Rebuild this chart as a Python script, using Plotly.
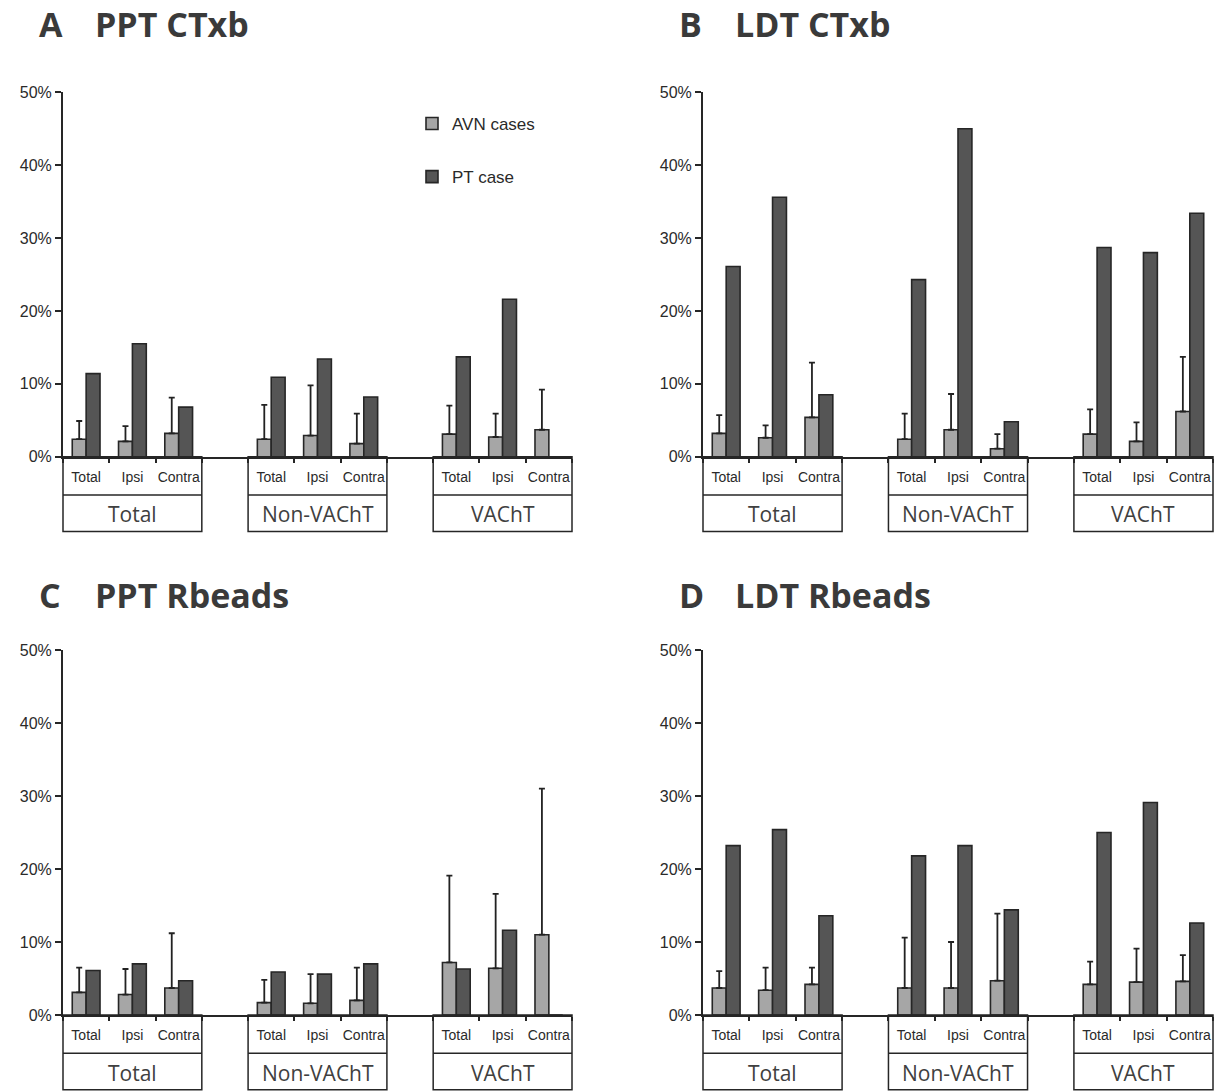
import plotly.graph_objects as go

# ---- data ----
sub_labels = ["Total", "Ipsi", "Contra", "Total", "Ipsi", "Contra", "Total", "Ipsi", "Contra"]
group_labels = ["Total", "Non-VAChT", "VAChT"]
slot_pos = [0, 1, 2, 4, 5, 6, 8, 9, 10]   # categorical slots, one empty slot between groups

panel_letters = ["A", "B", "C", "D"]
panel_titles = ["PPT CTxb", "LDT CTxb", "PPT Rbeads", "LDT Rbeads"]

# AVN cases (mean), upper error bar top, PT case
avn_A = [0.024, 0.021, 0.032, 0.024, 0.029, 0.018, 0.031, 0.027, 0.037]
avn_err_top_A = [0.049, 0.042, 0.081, 0.071, 0.098, 0.059, 0.070, 0.059, 0.092]
pt_A = [0.114, 0.155, 0.068, 0.109, 0.134, 0.082, 0.137, 0.216, 0.0]

avn_B = [0.032, 0.026, 0.054, 0.024, 0.037, 0.011, 0.031, 0.021, 0.062]
avn_err_top_B = [0.057, 0.043, 0.129, 0.059, 0.086, 0.031, 0.065, 0.047, 0.137]
pt_B = [0.261, 0.356, 0.085, 0.243, 0.450, 0.048, 0.287, 0.280, 0.334]

avn_C = [0.031, 0.028, 0.037, 0.017, 0.016, 0.020, 0.072, 0.064, 0.110]
avn_err_top_C = [0.065, 0.063, 0.112, 0.048, 0.056, 0.065, 0.191, 0.166, 0.310]
pt_C = [0.061, 0.070, 0.047, 0.059, 0.056, 0.070, 0.063, 0.116, 0.0]

avn_D = [0.037, 0.034, 0.042, 0.037, 0.037, 0.047, 0.042, 0.045, 0.046]
avn_err_top_D = [0.060, 0.065, 0.065, 0.106, 0.100, 0.139, 0.073, 0.091, 0.082]
pt_D = [0.232, 0.254, 0.136, 0.218, 0.232, 0.144, 0.250, 0.291, 0.126]

avn_all = [avn_A, avn_B, avn_C, avn_D]
err_all = [avn_err_top_A, avn_err_top_B, avn_err_top_C, avn_err_top_D]
pt_all = [pt_A, pt_B, pt_C, pt_D]

# ---- layout geometry (pixels of 1225x1091 canvas) ----
W, H = 1225, 1091
x_dom_px = [(63, 572), (703, 1213), (63, 572), (703, 1213)]
y_dom_px = [(92.3, 456.7), (92.3, 456.7), (650, 1015), (650, 1015)]
title_pos = [(37, 93, 24), (677, 733, 24), (37, 93, 595), (677, 733, 595)]

LIGHT = "#a6a6a6"
DARK = "#555555"
EDGE = "#262626"
TXT = "#2a2a2a"

fig = go.Figure()
shapes = []
annotations = []

for i in range(4):
    ax = "" if i == 0 else str(i + 1)
    xa, ya = "x" + ax, "y" + ax
    fig.add_trace(go.Bar(
        x=slot_pos, y=avn_all[i], name="AVN cases",
        marker=dict(color=LIGHT, line=dict(color=EDGE, width=1.6)),
        error_y=dict(type="data", symmetric=False,
                     array=[t - v for t, v in zip(err_all[i], avn_all[i])],
                     arrayminus=[0] * len(avn_all[i]),
                     color="#222222", thickness=1.8, width=3),
        xaxis=xa, yaxis=ya, showlegend=(i == 0), legendgroup="avn",
    ))
    fig.add_trace(go.Bar(
        x=slot_pos, y=pt_all[i], name="PT case",
        marker=dict(color=DARK, line=dict(color=EDGE, width=1.6)),
        xaxis=xa, yaxis=ya, showlegend=(i == 0), legendgroup="pt",
    ))

    x0p, x1p = x_dom_px[i]
    y0p, y1p = y_dom_px[i]
    xdom = [x0p / W, x1p / W]
    ydom = [1 - y1p / H, 1 - y0p / H]
    fig.update_layout(**{
        "xaxis" + ax: dict(
            domain=xdom, range=[-0.5, 10.5], anchor=ya, automargin=False,
            tickmode="array", tickvals=slot_pos, ticktext=sub_labels,
            ticks="", showline=True, linecolor=EDGE, linewidth=2,
            showgrid=False, zeroline=False, fixedrange=True,
            tickfont=dict(family="Liberation Sans, Arial, sans-serif", size=14, color=TXT),
            ticklabelstandoff=6,
            minor=dict(tick0=0.5, dtick=1, ticks="outside", ticklen=4,
                       tickwidth=2, tickcolor=EDGE),
        ),
        "yaxis" + ax: dict(
            domain=ydom, range=[0, 0.5], anchor=xa, automargin=False,
            tickmode="linear", tick0=0, dtick=0.1, tickformat=".0%",
            ticks="outside", ticklen=6, tickwidth=2, tickcolor=EDGE,
            showline=True, linecolor=EDGE, linewidth=2,
            showgrid=False, zeroline=False, fixedrange=True,
            tickfont=dict(family="Liberation Sans, Arial, sans-serif", size=16, color=TXT),
        ),
    })

    # group boxes under the axis
    for g, glab in enumerate(group_labels):
        gx0 = (4 * g) / 11
        gx1 = (4 * g + 3) / 11
        shapes.append(dict(type="rect", xref=xa + " domain", yref=ya + " domain",
                           x0=gx0, x1=gx1, y0=-0.205, y1=0,
                           line=dict(color=EDGE, width=1.5), fillcolor="rgba(0,0,0,0)"))
        shapes.append(dict(type="line", xref=xa + " domain", yref=ya + " domain",
                           x0=gx0, x1=gx1, y0=-0.105, y1=-0.105,
                           line=dict(color=EDGE, width=1.5)))
        annotations.append(dict(xref=xa + " domain", yref=ya + " domain",
                                x=(gx0 + gx1) / 2, y=-0.158, text=glab, showarrow=False,
                                xanchor="center", yanchor="middle",
                                font=dict(family="Open Sans, sans-serif", size=21, color="#404040")))

    lx, tx, ty = title_pos[i]
    annotations.append(dict(xref="paper", yref="paper", x=lx / W, y=1 - ty / H,
                            text="<b>" + panel_letters[i] + "</b>", showarrow=False,
                            xanchor="left", yanchor="middle",
                            font=dict(family="Open Sans, sans-serif", size=34, color="#3a3a3a")))
    annotations.append(dict(xref="paper", yref="paper", x=tx / W, y=1 - ty / H,
                            text="<b>" + panel_titles[i] + "</b>", showarrow=False,
                            xanchor="left", yanchor="middle",
                            font=dict(family="Open Sans, sans-serif", size=34, color="#3a3a3a")))

fig.update_layout(
    width=W, height=H,
    margin=dict(l=0, r=0, t=0, b=0, pad=0, autoexpand=False),
    paper_bgcolor="white", plot_bgcolor="white",
    barmode="group", bargap=0.4, bargroupgap=0,
    shapes=shapes, annotations=annotations,
    legend=dict(x=412 / W, y=1 - 106 / H, xanchor="left", yanchor="top",
                traceorder="grouped", tracegroupgap=28, bgcolor="rgba(0,0,0,0)",
                font=dict(family="Liberation Sans, Arial, sans-serif", size=17, color=TXT),
                itemwidth=30),
)

fig.write_html("out.html")
